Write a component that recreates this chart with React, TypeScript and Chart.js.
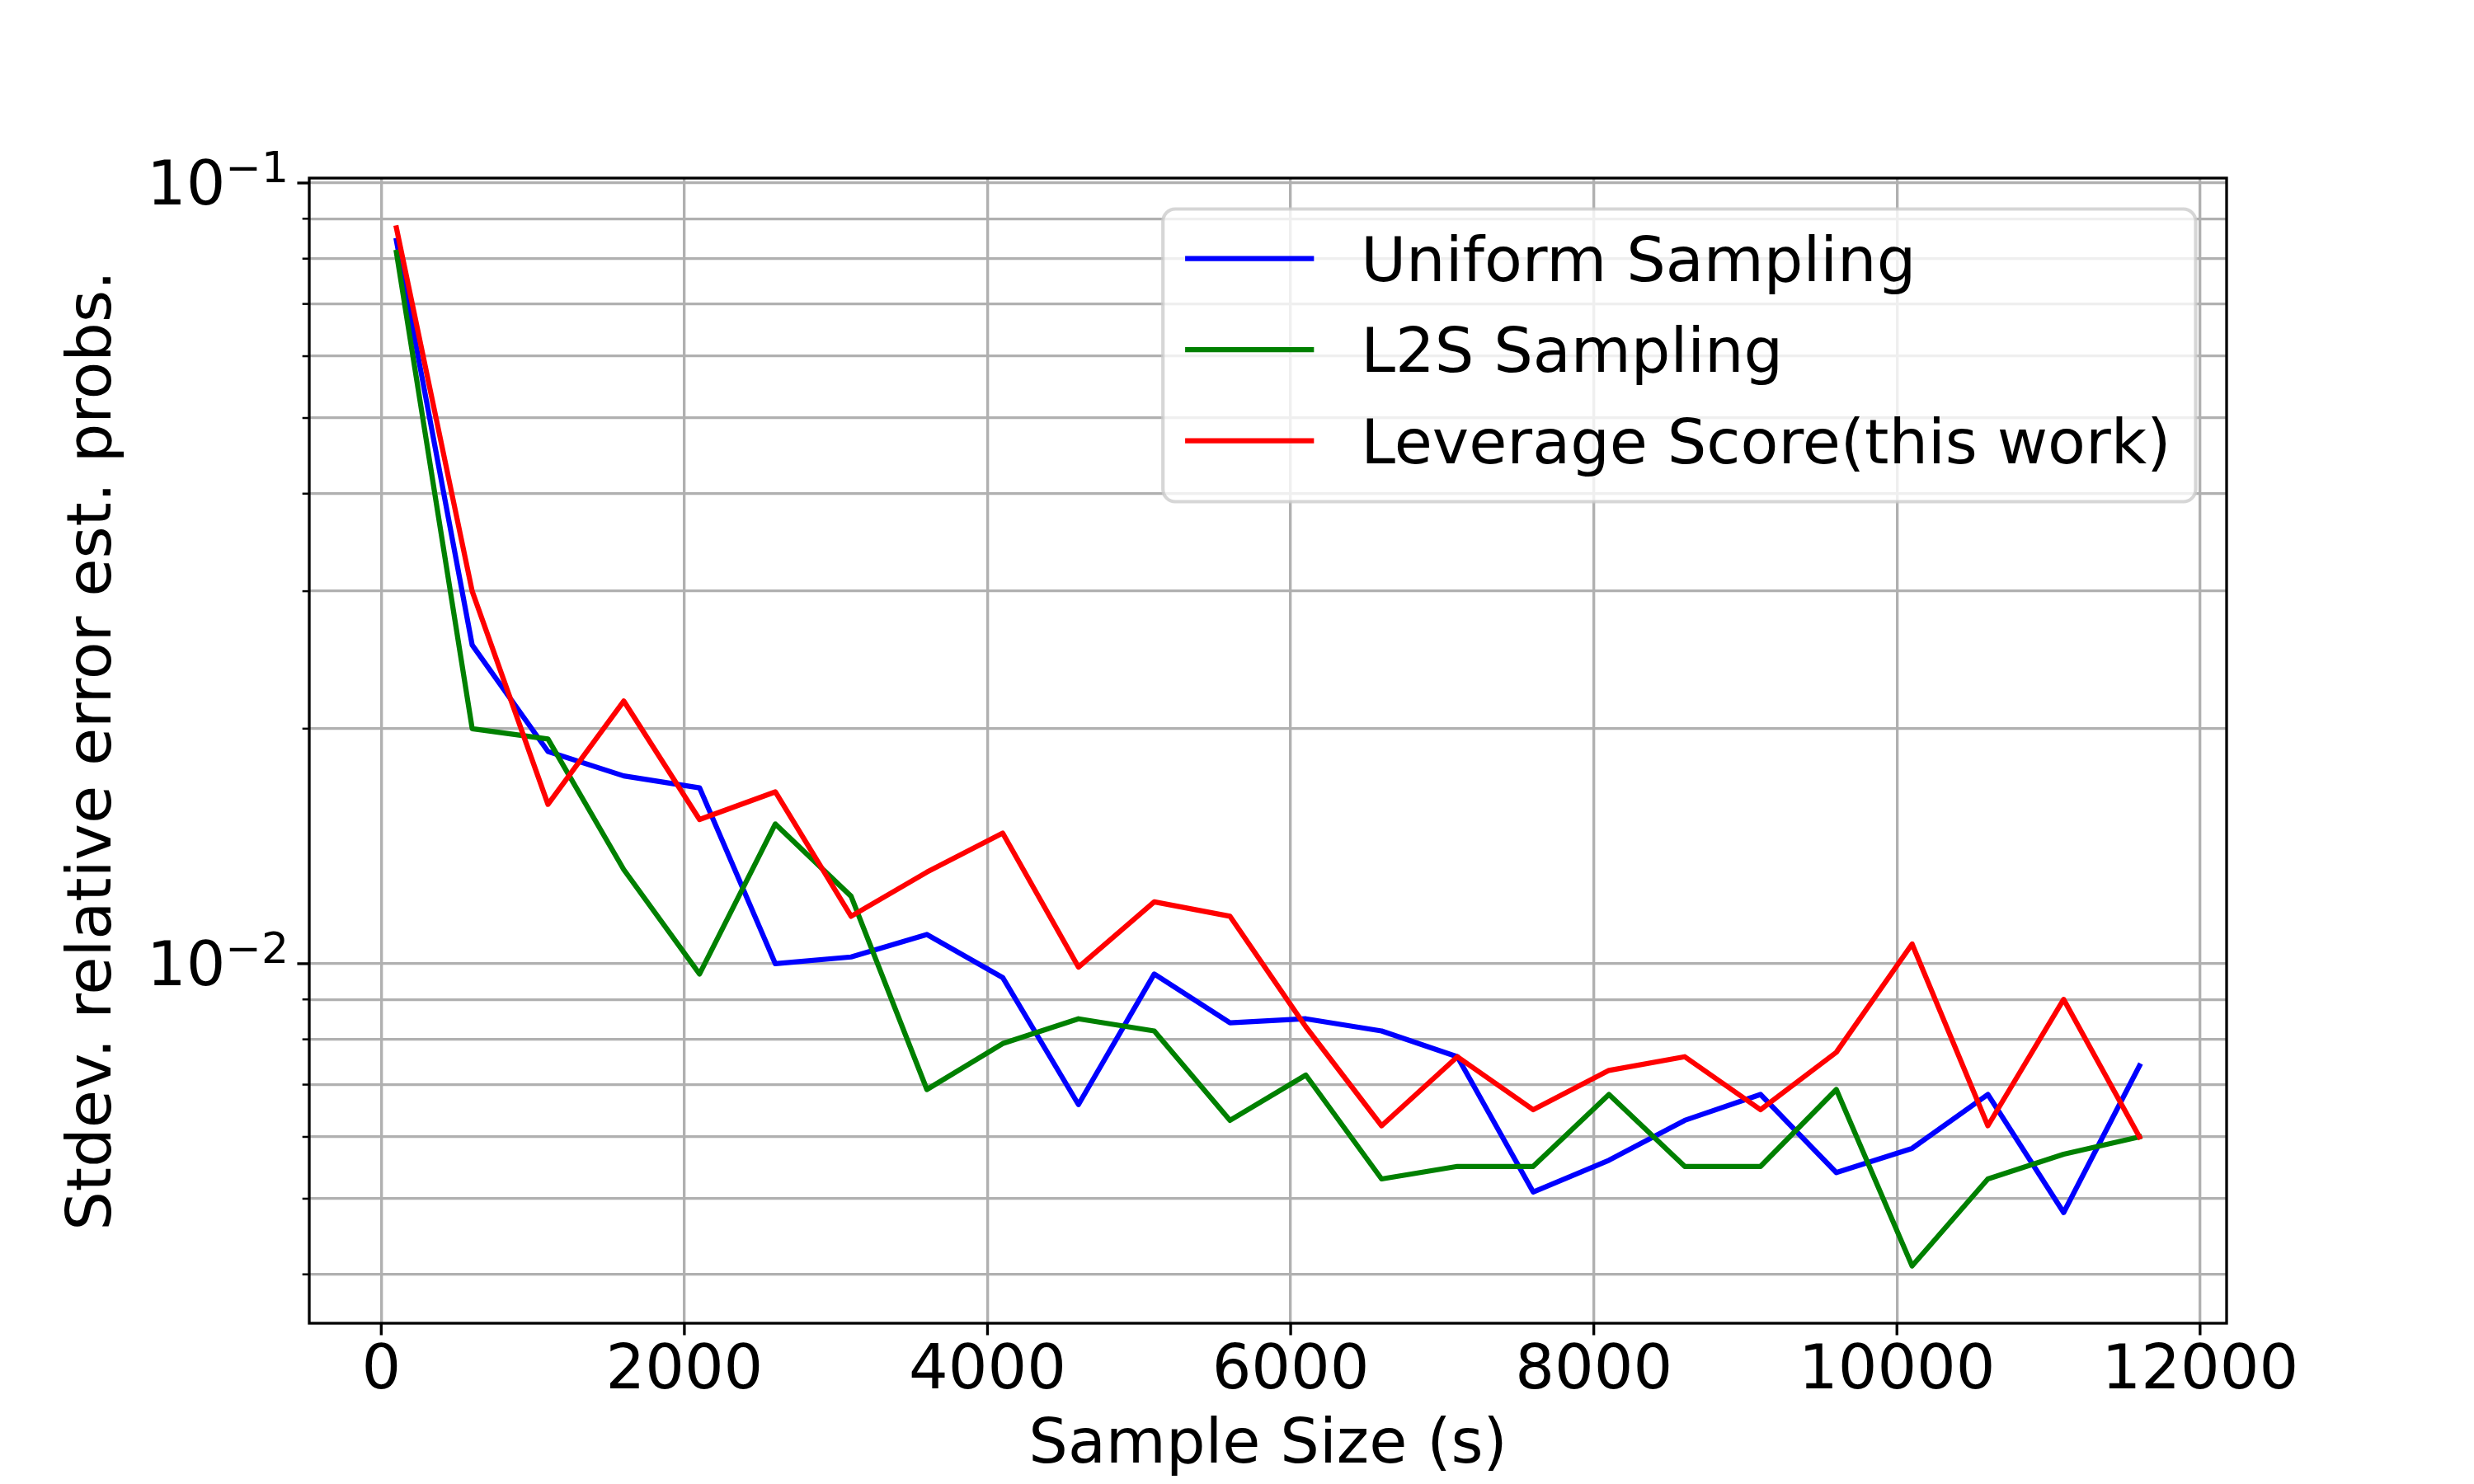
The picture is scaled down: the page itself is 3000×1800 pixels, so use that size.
import { useEffect, useRef } from "react";
import { Chart, registerables } from "chart.js";

Chart.register(...registerables);

const sampleSizes = [
  100, 600, 1100, 1600, 2100, 2600, 3100, 3600, 4100, 4600, 5100, 5600, 6100,
  6600, 7100, 7600, 8100, 8600, 9100, 9600, 10100, 10600, 11100, 11600,
];

const uniformSampling = [
  0.0844, 0.0256, 0.0187, 0.0174, 0.0168, 0.01, 0.0102, 0.0109, 0.0096, 0.0066,
  0.0097, 0.0084, 0.0085, 0.0082, 0.0076, 0.0051, 0.0056, 0.0063, 0.0068,
  0.0054, 0.0058, 0.0068, 0.0048, 0.0074,
];

const l2sSampling = [
  0.0815, 0.02, 0.0194, 0.0132, 0.0097, 0.0151, 0.0122, 0.0069, 0.0079, 0.0085,
  0.0082, 0.0063, 0.0072, 0.0053, 0.0055, 0.0055, 0.0068, 0.0055, 0.0055,
  0.0069, 0.0041, 0.0053, 0.0057, 0.006,
];

const leverageScore = [
  0.0876, 0.03, 0.016, 0.0217, 0.0153, 0.0166, 0.0115, 0.0131, 0.0147, 0.0099,
  0.012, 0.0115, 0.0083, 0.0062, 0.0076, 0.0065, 0.0073, 0.0076, 0.0065,
  0.0077, 0.0106, 0.0062, 0.009, 0.006,
];

const seriesLabels = [
  "Uniform Sampling",
  "L2S Sampling",
  "Leverage Score(this work)",
];
const seriesColors = ["#0000ff", "#008000", "#ff0000"];

const xTicks = [0, 2000, 4000, 6000, 8000, 10000, 12000];
const yTicks = [
  0.004, 0.005, 0.006, 0.007, 0.008, 0.009, 0.01, 0.02, 0.03, 0.04, 0.05, 0.06,
  0.07, 0.08, 0.09, 0.1,
];
const yMajorTicks = [0.01, 0.1];
const yMajorExponents = ["\u22122", "\u22121"];

const FONT = '"DejaVu Sans"';
const PT = 300 / 72; // matplotlib points at 300 dpi
const FS = 75;

// spines, tick marks, log labels and the legend, drawn the matplotlib way
const axesDecor = {
  id: "axesDecor",
  afterDraw(chart: Chart) {
    const { ctx, chartArea: a, scales } = chart;
    const xs = scales.x;
    const ys = scales.y;
    ctx.save();

    ctx.strokeStyle = "#000";
    ctx.lineWidth = 0.8 * PT;
    ctx.strokeRect(a.left, a.top, a.right - a.left, a.bottom - a.top);

    ctx.beginPath();
    for (const v of xTicks) {
      const px = xs.getPixelForValue(v);
      ctx.moveTo(px, a.bottom);
      ctx.lineTo(px, a.bottom + 3.5 * PT);
    }
    ctx.stroke();

    for (const v of yTicks) {
      const major = yMajorTicks.some((m) => Math.abs(m - v) < 1e-9);
      const py = ys.getPixelForValue(v);
      ctx.lineWidth = (major ? 0.8 : 0.6) * PT;
      ctx.beginPath();
      ctx.moveTo(a.left, py);
      ctx.lineTo(a.left - (major ? 3.5 : 2) * PT, py);
      ctx.stroke();
    }

    ctx.fillStyle = "#000";
    ctx.textAlign = "right";
    ctx.textBaseline = "alphabetic";
    yMajorTicks.forEach((v, i) => {
      const py = ys.getPixelForValue(v);
      const right = a.left - 25;
      ctx.font = `52px ${FONT}`;
      const exp = yMajorExponents[i];
      const w = ctx.measureText(exp).width;
      ctx.fillText(exp, right, py - 1);
      ctx.font = `${FS}px ${FONT}`;
      ctx.fillText("10", right - w, py + 26);
    });

    // legend
    ctx.font = `${FS}px ${FONT}`;
    const textW = Math.max(...seriesLabels.map((l) => ctx.measureText(l).width));
    const boxW = 0.4 * FS + 2 * FS + 0.8 * FS + textW + 0.4 * FS;
    const boxH = 355;
    const bx = a.right - 0.5 * FS - boxW;
    const by = a.top + 0.5 * FS;
    ctx.beginPath();
    ctx.roundRect(bx, by, boxW, boxH, 0.2 * FS);
    ctx.fillStyle = "rgba(255,255,255,0.8)";
    ctx.fill();
    ctx.strokeStyle = "rgba(204,204,204,0.8)";
    ctx.lineWidth = 1 * PT;
    ctx.stroke();

    seriesLabels.forEach((label, i) => {
      const rowY = by + 60 + i * 110.5;
      ctx.strokeStyle = seriesColors[i];
      ctx.lineWidth = 1.5 * PT;
      ctx.lineCap = "square";
      ctx.beginPath();
      ctx.moveTo(bx + 0.4 * FS, rowY);
      ctx.lineTo(bx + 2.4 * FS, rowY);
      ctx.stroke();
      ctx.fillStyle = "#000";
      ctx.textAlign = "left";
      ctx.fillText(label, bx + 3.2 * FS, rowY + 27);
    });

    ctx.restore();
  },
};

function SamplingErrorChart() {
  const canvasRef = useRef<HTMLCanvasElement | null>(null);
  const chartRef = useRef<Chart | null>(null);

  useEffect(() => {
    const canvas = canvasRef.current;
    if (!canvas) {
      return;
    }
    const context = canvas.getContext("2d");
    if (!context) {
      return;
    }

    chartRef.current?.destroy();

    const series = [uniformSampling, l2sSampling, leverageScore];
    const font = { family: "DejaVu Sans", size: FS, lineHeight: 1.2 };

    chartRef.current = new Chart(context, {
      type: "line",
      data: {
        datasets: series.map((values, i) => ({
          label: seriesLabels[i],
          data: sampleSizes.map((s, j) => ({ x: s, y: values[j] })),
          borderColor: seriesColors[i],
          backgroundColor: seriesColors[i],
          borderWidth: 1.5 * PT,
          borderJoinStyle: "round" as const,
          borderCapStyle: "square" as const,
          pointRadius: 0,
          tension: 0,
          fill: false,
          order: series.length - i,
        })),
      },
      options: {
        animation: false,
        responsive: true,
        maintainAspectRatio: false,
        layout: { padding: { top: 216, right: 300, bottom: 0, left: 0 } },
        plugins: {
          legend: { display: false },
          tooltip: { enabled: false },
        },
        scales: {
          x: {
            type: "linear",
            min: -475,
            max: 12175,
            afterBuildTicks: (scale) => {
              scale.ticks = xTicks.map((v) => ({ value: v }));
            },
            afterFit: (scale) => {
              scale.height = 195;
            },
            grid: { color: "#b0b0b0", lineWidth: 0.8 * PT, drawTicks: false },
            border: { display: false },
            ticks: {
              autoSkip: false,
              maxRotation: 0,
              padding: 15,
              color: "#000",
              font,
              callback: (value) => String(value),
            },
            title: {
              display: true,
              text: "Sample Size (s)",
              color: "#000",
              font,
              padding: { top: 0, bottom: 0 },
            },
          },
          y: {
            type: "logarithmic",
            min: 0.003463,
            max: 0.10146,
            afterBuildTicks: (scale) => {
              scale.ticks = yTicks.map((v) => ({ value: v }));
            },
            afterFit: (scale) => {
              scale.width = 375;
            },
            grid: { color: "#b0b0b0", lineWidth: 0.8 * PT, drawTicks: false },
            border: { display: false },
            ticks: { display: false },
            title: {
              display: true,
              text: "Stdev. relative error est. probs.",
              color: "#000",
              font,
              padding: { top: 70, bottom: 0 },
            },
          },
        },
      },
      plugins: [axesDecor],
    });

    return () => {
      chartRef.current?.destroy();
      chartRef.current = null;
    };
  }, []);

  return <canvas ref={canvasRef} />;
}

export default function App() {
  useEffect(() => {
    document.body.style.margin = "0";
  }, []);

  return (
    <div style={{ width: 3000, height: 1800, position: "relative", background: "#fff" }}>
      <SamplingErrorChart />
    </div>
  );
}
